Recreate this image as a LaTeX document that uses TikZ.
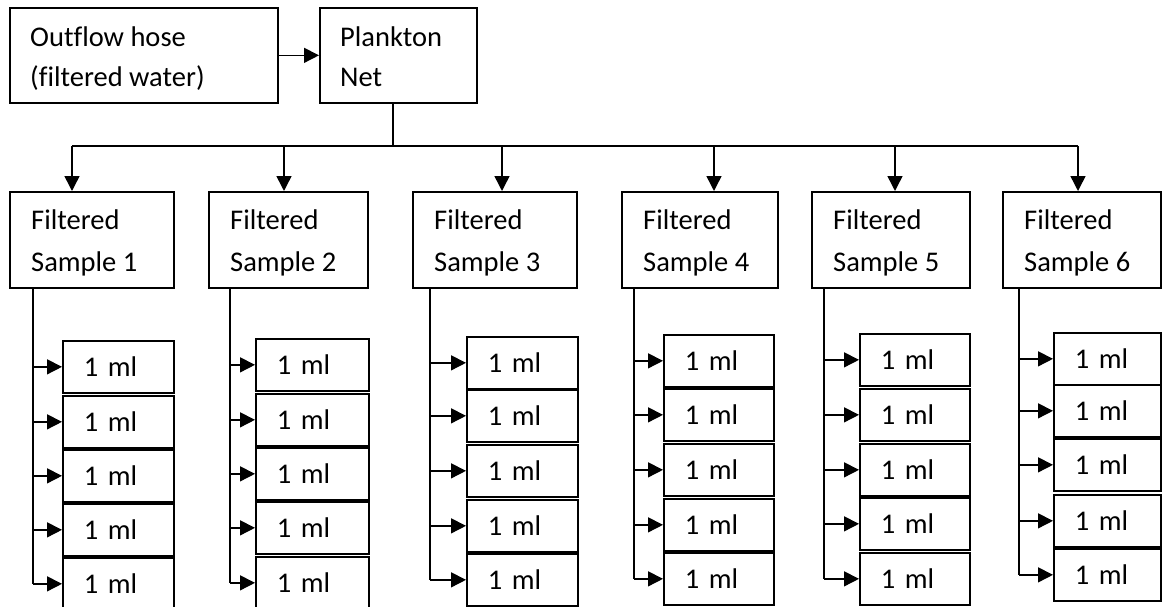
\documentclass[tikz,border=0pt]{standalone}
\usepackage{fontspec}
\setmainfont{Carlito}[Ligatures=NoCommon]
\usetikzlibrary{arrows.meta}
\begin{document}
\begin{tikzpicture}[x=1pt,y=-1pt,
  box/.style={draw, line width=1.7pt, anchor=north west, inner sep=0pt},
  txt/.style={anchor=base west, inner sep=0pt, font=\fontsize{28.5}{34}\selectfont},
  mlbox/.style={box, minimum height=52pt, inner xsep=21pt, inner ysep=0pt,
    font=\fontsize{28.5}{34}\selectfont, align=left},
  conn/.style={line width=1.5pt},
  arr/.style={conn, -{Triangle[length=15pt,width=15pt]}}]
\useasboundingbox (0,0) rectangle (1162,607);
% top boxes
\node[box, minimum width=268pt, minimum height=95pt] (hose) at (9,7) {};
\node[txt] (hoset1) at (30,47) {Outflow hose};
\node[txt] (hoset2) at (30,87) {(filtered water)};
\node[box, minimum width=157pt, minimum height=95pt] (net) at (319,7) {};
\node[txt] (nett1) at (340,47) {Plankton};
\node[txt] (nett2) at (340,87) {Net};
\draw[arr] (hose.east) -- (hose.east -| net.west);
% sample boxes
\foreach \n/\l/\w in {1/9/164, 2/208/159, 3/412/164, 4/621/156, 5/811/158, 6/1002/158}{
  \node[box, minimum width=\w pt, minimum height=96pt] (s\n) at (\l,191) {};
  \node[txt] (st\n a) at (\l+22,229) {Filtered};
  \node[txt] (st\n b) at (\l+22,271) {Sample \n};
}
% bus
\coordinate (trunk) at (393,146);
\draw[conn] (trunk |- net.south) -- (trunk);
\foreach \n/\x in {1/72, 2/284, 3/502, 4/714, 5/895, 6/1078}{
  \coordinate (b\n) at (\x,146);
  \draw[arr] (b\n) -- (b\n |- s\n.north);
}
\draw[conn] (b1) -- (b6);
% 1 ml boxes
\foreach \c/\l/\w/\lx/\tops in {
  1/62/111/33/{340,395,449,503,557},
  2/255/113/230/{338,393,447,501,556},
  3/466/111/430/{336,389,444,499,553},
  4/663/110/634/{334,388,443,498,552},
  5/859/110/824/{333,388,443,497,552},
  6/1053/107/1019/{332,384,438,494,548}}{
  \coordinate (v\c) at (\lx,300);
  \foreach \t [count=\i] in \tops {
    \node[mlbox, minimum width=\w pt, text width=\w pt-42pt] (m\c\i) at (\l,\t) {1 ml};
    \draw[arr] (v\c |- m\c\i.west) -- (m\c\i.west);
  }
  \draw[conn] (v\c |- s\c.south) -- (v\c |- m\c5.west);
}
\end{tikzpicture}
\end{document}
